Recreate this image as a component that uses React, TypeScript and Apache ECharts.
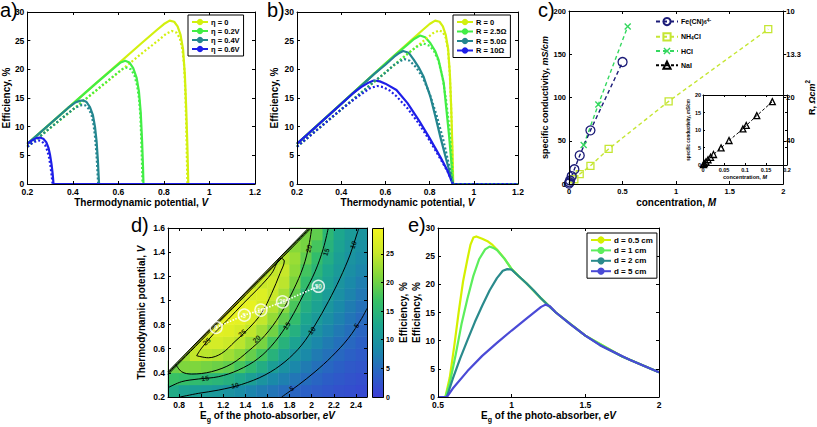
import React, { useEffect, useRef } from "react";
import * as echarts from "echarts";

const FONT = '"Liberation Sans", Arial, Helvetica, sans-serif';

// ---------------- Panel a : overpotential ----------------
const aNames = ["η = 0", "η = 0.2V", "η = 0.4V", "η = 0.6V"];
const aEta0 = [[0.2,7.0],[0.5,17.5],[0.7,24.5],[0.77,26.9],[0.8,27.9],[0.825,28.5],[0.845,28.3],[0.86,27.5],[0.873,26.0],[0.884,23.5],[0.892,19.0],[0.898,13.0],[0.903,6.5],[0.907,0],[1.2,0]];
const aEta02 = [[0.2,7.0],[0.5,17.5],[0.58,20.2],[0.61,21.2],[0.63,21.5],[0.648,21.2],[0.665,20.2],[0.68,18.5],[0.69,16.2],[0.698,12.5],[0.704,7.5],[0.708,3.0],[0.71,0],[1.2,0]];
const aEta04 = [[0.2,7.0],[0.38,13.3],[0.41,14.2],[0.43,14.5],[0.445,14.6],[0.46,14.3],[0.475,13.4],[0.488,12.0],[0.497,10.0],[0.504,7.5],[0.51,4.0],[0.513,1.5],[0.515,0],[1.2,0]];
const aEta06 = [[0.2,7.0],[0.22,7.6],[0.24,8.0],[0.255,8.1],[0.27,7.9],[0.283,7.3],[0.293,6.3],[0.3,5.0],[0.306,3.5],[0.311,1.8],[0.315,0],[1.2,0]];
const aEta0Dot = [[0.2,6.5],[0.5,16.2],[0.7,22.7],[0.78,25.2],[0.81,26.2],[0.835,26.7],[0.855,26.4],[0.87,25.4],[0.881,23.5],[0.889,20.5],[0.894,16],[0.898,10],[0.901,4],[0.903,0],[1.2,0]];
const aEta02Dot = [[0.2,6.5],[0.55,17.9],[0.6,19.5],[0.62,20.1],[0.638,20.3],[0.655,20.0],[0.67,19.0],[0.682,17.2],[0.691,14.8],[0.697,11.5],[0.701,7],[0.704,3],[0.706,0],[1.2,0]];
const aEta04Dot = [[0.2,6.5],[0.38,12.4],[0.41,13.3],[0.44,13.8],[0.455,13.7],[0.47,13.1],[0.482,12.0],[0.491,10.3],[0.498,8.0],[0.504,5.0],[0.508,2.2],[0.511,0],[1.2,0]];
const aEta06Dot = [[0.2,6.5],[0.22,7.1],[0.24,7.5],[0.252,7.6],[0.265,7.4],[0.278,6.8],[0.288,5.8],[0.296,4.5],[0.302,3.0],[0.307,1.4],[0.311,0],[1.2,0]];

// ---------------- Panel b : series resistance ----------------
const bNames = ["R = 0", "R = 2.5Ω", "R = 5.0Ω", "R = 10Ω"];
const bR0 = [[0.2,7.0],[0.5,17.5],[0.7,24.5],[0.77,26.9],[0.8,27.9],[0.825,28.5],[0.845,28.3],[0.86,27.5],[0.873,26.0],[0.884,23.5],[0.892,19.0],[0.898,13.0],[0.903,6.5],[0.907,0],[1.2,0]];
const bR25 = [[0.2,7.0],[0.6,21.0],[0.65,22.7],[0.7,24.3],[0.73,25.3],[0.757,25.9],[0.78,25.6],[0.803,24.6],[0.825,23.2],[0.841,21.6],[0.864,17.6],[0.876,13.0],[0.888,8.5],[0.898,4.0],[0.905,0],[1.2,0]];
const bR5 = [[0.2,7.0],[0.55,19.2],[0.6,20.8],[0.64,22.2],[0.665,22.9],[0.68,23.2],[0.705,22.9],[0.728,21.7],[0.75,20.4],[0.773,18.7],[0.803,15.3],[0.826,11.8],[0.85,8.0],[0.875,4.3],[0.895,1.5],[0.905,0],[1.2,0]];
const bR10 = [[0.2,7.0],[0.45,15.7],[0.49,16.9],[0.52,17.6],[0.548,18.05],[0.575,17.9],[0.6,17.5],[0.65,16.4],[0.7,14.1],[0.75,11.2],[0.8,8.0],[0.85,4.6],[0.88,2.4],[0.905,0],[1.2,0]];
const bR0Dot = [[0.2,6.5],[0.5,16.2],[0.7,22.7],[0.78,25.2],[0.815,26.3],[0.843,26.8],[0.86,26.5],[0.873,25.5],[0.883,23.5],[0.891,19.5],[0.897,14],[0.901,8],[0.904,3],[0.906,0],[1.2,0]];
const bR25Dot = [[0.2,6.5],[0.65,21.1],[0.7,22.7],[0.74,23.9],[0.773,24.5],[0.8,24.1],[0.82,23.2],[0.84,21.5],[0.86,18.3],[0.875,14.5],[0.89,9.5],[0.9,4.5],[0.906,0],[1.2,0]];
const bR5Dot = [[0.2,6.5],[0.55,17.9],[0.6,19.4],[0.64,20.8],[0.685,21.8],[0.71,21.5],[0.74,20.3],[0.77,18.5],[0.8,15.8],[0.83,12.2],[0.86,8.0],[0.885,3.8],[0.906,0],[1.2,0]];
const bR10Dot = [[0.2,6.5],[0.4,13.0],[0.46,14.8],[0.5,15.9],[0.53,16.7],[0.562,17.1],[0.59,16.9],[0.62,16.3],[0.65,15.3],[0.7,13.2],[0.75,10.6],[0.8,7.6],[0.85,4.3],[0.88,2.3],[0.906,0],[1.2,0]];

// ---------------- Panel c : conductivity ----------------
const cNames = ["Fe(CN)6", "NH4Cl", "HCl", "NaI"];
const cFe = [[0,0.5],[0.005,2],[0.01,4],[0.025,9],[0.05,17],[0.1,33],[0.2,62],[0.5,141]];
const cNH4Cl = [[0.05,5.5],[0.1,11.5],[0.2,21],[0.37,40.5],[0.93,95.5],[1.86,179]];
const cHCl = [[0.137,45],[0.274,92],[0.548,182]];
const cNaI = [[0.001,0.1],[0.003,0.4],[0.007,0.9],[0.012,1.5],[0.018,2.2],[0.025,3.0],[0.043,4.9],[0.062,7.0],[0.095,10.3],[0.103,11.3],[0.128,14.1],[0.165,18.1]];
const cRTicks = [50, 100, 150, 200];
const cRLabels = ["40", "20", "13.3", "10"];

// ---------------- Panel d : efficiency map ----------------
const dEgCenters = [0.75,0.85,0.95,1.05,1.15,1.25,1.35,1.45,1.55,1.65,1.75,1.85,1.95,2.05,2.15,2.25,2.35,2.45];
const dVCenters = [0.25,0.35,0.45,0.55,0.65,0.75,0.85,0.95,1.05,1.15,1.25,1.35,1.45,1.55];
const dCol075 = [13.5, 17, 20];
const dCol085 = [12, 16.5, 21, 23];
const dCol095 = [11.5, 16, 21, 25, 25.5];
const dCol105 = [11, 15.5, 20.5, 24.5, 26.5, 27];
const dCol115 = [10.5, 15, 20, 24, 26.5, 27.8, 27.5];
const dCol125 = [9.8, 14.3, 19.3, 23, 25.7, 27.6, 28.4, 27.5];
const dCol135 = [8.9, 13.2, 17.8, 21.6, 24.5, 26.6, 28.2, 28, 25.5];
const dCol145 = [7.9, 11.6, 15.8, 19.6, 22.5, 24.8, 26.9, 28.4, 27.2, 24.5];
const dCol155 = [7, 9.9, 13.8, 17.6, 20.6, 23, 25, 26.7, 27.4, 25.5, 23.5];
const dCol165 = [6.2, 8.5, 11.5, 14.6, 17.6, 20.3, 22.3, 24.2, 25.4, 25.9, 25, 22];
const dCol175 = [5.4, 7.4, 9.6, 12, 14.6, 17, 19.4, 21.4, 23.2, 24.6, 25.2, 24, 21];
const dCol185 = [4.6, 6.3, 8.2, 10.1, 12.2, 14.2, 16.2, 17.9, 19.4, 20.8, 21.9, 22.6, 21.5, 19];
const dCol195 = [4, 5.4, 6.9, 8.4, 9.8, 11.3, 12.6, 13.9, 15, 16.2, 17.6, 19.3, 20.5, 20.5];
const dCol205 = [3.4, 4.5, 5.7, 6.9, 8.2, 9.6, 10.9, 12, 13.1, 14.1, 15, 16.2, 17.7, 19.3];
const dCol215 = [2.8, 3.7, 4.7, 5.8, 6.9, 8, 9.2, 10.2, 11.1, 12, 12.8, 13.7, 14.6, 15.4];
const dCol225 = [2.3, 3.1, 3.9, 4.8, 5.7, 6.6, 7.6, 8.4, 9.3, 10.0, 10.8, 11.5, 12.2, 12.8];
const dCol235 = [1.9, 2.5, 3.2, 4.0, 4.8, 5.5, 6.2, 7.0, 7.8, 8.5, 9.2, 9.8, 10.4, 11];
const dCol245 = [1.5, 2.1, 2.7, 3.3, 3.9, 4.5, 5.1, 5.8, 6.5, 7.2, 8.0, 8.7, 9.4, 10.0];
const dColumns = [dCol075,dCol085,dCol095,dCol105,dCol115,dCol125,dCol135,dCol145,dCol155,dCol165,dCol175,dCol185,dCol195,dCol205,dCol215,dCol225,dCol235,dCol245];

const dC25 = [[0.959,0.542],[1.065,0.525],[1.185,0.561],[1.306,0.66],[1.427,0.765],[1.547,0.895],[1.638,1.059],[1.713,1.224],[1.752,1.327],[1.722,1.349],[1.638,1.225],[1.517,1.10],[1.381,0.975],[1.246,0.845],[1.11,0.72],[1.004,0.605],[0.959,0.542]];
const dC20 = [[0.77,0.47],[0.824,0.409],[0.914,0.39],[1.095,0.41],[1.276,0.475],[1.427,0.58],[1.577,0.71],[1.713,0.879],[1.834,1.086],[1.924,1.28],[1.975,1.459],[2.0,1.6]];
const dC15 = [[0.7,0.277],[0.824,0.327],[0.974,0.349],[1.155,0.368],[1.336,0.423],[1.517,0.52],[1.668,0.658],[1.803,0.838],[1.924,1.045],[2.03,1.238],[2.105,1.431],[2.15,1.6]];
const dC10 = [[0.809,0.2],[0.974,0.23],[1.155,0.257],[1.366,0.304],[1.577,0.382],[1.758,0.492],[1.909,0.63],[2.03,0.796],[2.15,0.99],[2.256,1.183],[2.346,1.376],[2.406,1.542],[2.427,1.6]];
const dC5 = [[1.728,0.2],[1.879,0.299],[2.03,0.409],[2.18,0.534],[2.331,0.686],[2.452,0.851],[2.5,0.934]];
const dBoundary = [[0.7,0.41],[1.97,1.6]];
const dBand1 = [[0.7,0.398],[1.983,1.6]];
const dBand2 = [[0.7,0.386],[1.996,1.6]];
const dLabelPts = [[1.05,0.66],[1.37,0.73],[1.5,0.68],[1.975,1.43],[1.035,0.355],[1.773,0.79],[2.13,1.4],[1.306,0.295],[2.0,0.75],[2.376,1.46],[1.818,0.27],[2.406,0.79]];
const dLabelTxt = ["25","25","20","20","15","15","15","10","10","10","5","5"];
const dLabelRot = [40, 40, 45, 75, 8, 55, 72, 12, 50, 68, 33, 52];
const dOptEg = [1.135, 1.39, 1.54, 1.736, 2.06];
const dOptV = [0.776, 0.878, 0.92, 0.988, 1.117];
const dOptLabels = ["0", "5", "10", "20", "50"];
const dXTicks = [0.8, 1, 1.2, 1.4, 1.6, 1.8, 2, 2.2, 2.4];
const dCbarTicks = [0, 5, 10, 15, 20, 25];

// ---------------- Panel e : distance ----------------
const eNames = ["d = 0.5 cm", "d = 1 cm", "d = 2 cm", "d = 5 cm"];
const eD05 = [[0.5,0],[0.55,0],[0.58,3.5],[0.61,9],[0.64,15],[0.67,20.5],[0.7,24.5],[0.72,27],[0.74,28.3],[0.76,28.5],[0.8,28.1],[0.84,27.6],[0.87,27.0],[0.9,26.2],[0.95,24.6],[1.0,22.7],[1.05,21.4],[1.1,20.2],[1.2,17.5],[1.3,15.0],[1.5,10.9],[1.75,7.2],[2.0,4.4]];
const eD1 = [[0.5,0],[0.55,0],[0.58,2.5],[0.62,7.5],[0.66,13],[0.7,17.5],[0.74,21.5],[0.78,24.5],[0.82,26.2],[0.85,26.7],[0.88,26.4],[0.9,26.1],[0.95,24.6],[1.0,22.7],[1.05,21.4],[1.1,20.2],[1.2,17.5],[1.3,15.0],[1.5,10.9],[1.75,7.2],[2.0,4.4]];
const eD2 = [[0.5,0],[0.56,0],[0.6,3.2],[0.65,6.8],[0.7,10.1],[0.75,13.3],[0.8,16.2],[0.85,18.9],[0.9,21.1],[0.94,22.4],[0.97,22.7],[1.0,22.6],[1.05,21.4],[1.1,20.2],[1.15,18.9],[1.2,17.5],[1.25,16.2],[1.3,15.0],[1.4,12.9],[1.5,10.9],[1.6,9.2],[1.75,7.2],[1.9,5.5],[2.0,4.4]];
const eD5 = [[0.5,0],[0.56,0],[0.6,1.5],[0.7,4.6],[0.8,7.3],[0.9,9.6],[1.0,11.8],[1.1,13.9],[1.2,16.0],[1.23,16.4],[1.26,16.1],[1.3,15.0],[1.4,12.9],[1.5,10.9],[1.6,9.2],[1.7,7.9],[1.8,6.6],[1.9,5.5],[2.0,4.4]];

// ---------------- styling ----------------
const COL = { y: "#d2f00f", g: "#42ee45", t: "#24868f", b: "#1e1ee8" };
const ECOL = { y: "#d4f000", g: "#5cee5c", t: "#2a8a8c", b: "#4a4ad6" };
const CMAP = ["#3d3dd6", "#2a62c4", "#1a8aa8", "#1ca68e", "#36c066", "#7fd63c", "#c8e82a", "#f2f51e"];
const CMAX = 29.5;

function rich(size: number, lh = 1.5) {
  const base = { fontSize: size, fontWeight: "bold", fontFamily: FONT, color: "#000", lineHeight: size * lh };
  return {
    b: { ...base },
    i: { ...base, fontStyle: "italic" },
    sub: { ...base, fontSize: size * 0.7, verticalAlign: "bottom" },
    sup: { ...base, fontSize: size * 0.7, verticalAlign: "top" },
    n: { ...base },
  };
}

function axis(o: any) {
  const a: any = {
    type: "value",
    gridIndex: o.grid,
    position: o.pos,
    min: o.min,
    max: o.max,
    z: 6,
    silent: true,
    axisLine: { show: true, onZero: false, lineStyle: { color: "#000", width: 1 } },
    axisTick: { show: true, inside: !o.tickOut, length: o.tickLen ?? 3, lineStyle: { color: "#000", width: 1 } },
    axisLabel: { show: !!o.labels, margin: o.margin ?? 3, fontSize: o.font ?? 8.5, fontWeight: "bold", color: "#000", fontFamily: FONT },
    splitLine: { show: false },
  };
  if (o.interval != null) a.interval = o.interval;
  if (o.custom) {
    a.axisTick.customValues = o.custom;
    a.axisLabel.customValues = o.custom;
  }
  if (o.formatter) a.axisLabel.formatter = o.formatter;
  if (o.name) {
    a.name = o.name;
    a.nameLocation = "middle";
    a.nameGap = o.nameGap;
    a.nameTextStyle = { fontSize: o.nameSize ?? 10, rich: rich(o.nameSize ?? 10) };
  }
  return a;
}

function line(name: string, data: number[][], color: string, xi: number, yi: number, dotted = false, width = 2.2) {
  return {
    type: "line", name, data, xAxisIndex: xi, yAxisIndex: yi, symbol: "none",
    smooth: false, silent: true, z: 3,
    lineStyle: { color, width, type: dotted ? [2, 2.2] : "solid", join: "round" },
    itemStyle: { color },
  };
}

function contour(data: number[][]) {
  return {
    type: "line", data, xAxisIndex: 9, yAxisIndex: 9, symbol: "none", smooth: 0.35, silent: true, z: 4,
    lineStyle: { color: "#000", width: 1 },
  };
}

function cSeries(name: string, data: number[][], color: string, symbol: string, size: number, xi: number, yi: number) {
  return {
    type: "line", name, data, xAxisIndex: xi, yAxisIndex: yi, symbol, symbolSize: size,
    silent: true, z: 3,
    lineStyle: { color, width: 1.4, type: [4, 3] },
    itemStyle: { color: "rgba(255,255,255,0)", borderColor: color, borderWidth: 1.3 },
  };
}

function legendBox(left: number, top: number, names: string[], opts: any = {}) {
  return {
    left, top, orient: "vertical", data: names, selectedMode: false,
    itemWidth: opts.itemWidth ?? 16, itemHeight: opts.itemHeight ?? 8, itemGap: opts.itemGap ?? 1,
    padding: opts.padding ?? [3, 4, 3, 3],
    borderColor: opts.border === false ? "transparent" : "#000",
    borderWidth: opts.border === false ? 0 : 1,
    backgroundColor: opts.border === false ? "transparent" : "#fff",
    textStyle: { fontSize: opts.font ?? 7.5, fontWeight: "bold", fontFamily: FONT, color: "#000", padding: [0, 0, 0, -2], rich: rich(opts.font ?? 7.5, opts.lh ?? 1.2) },
    formatter: opts.formatter,
    z: 8,
  };
}

function buildOption() {
  const grids = [
    { left: 27, top: 12, width: 228, height: 172 },   // 0 a
    { left: 297, top: 12, width: 221, height: 172 },  // 1 b
    { left: 569, top: 11, width: 223, height: 173 },  // 2 c
    { left: 703, top: 95, width: 84, height: 70 },    // 3 c inset
    { left: 168, top: 228, width: 199, height: 169 }, // 4 d heat
    { left: 168, top: 228, width: 199, height: 169 }, // 5 d value
    { left: 372, top: 228, width: 11, height: 169 },  // 6 colorbar
    { left: 438, top: 228, width: 221, height: 169 }, // 7 e
  ];

  const potName = "{b|Thermodynamic potential, }{i|V}";
  const effName = "{b|Efficiency, %}";
  const egName = "{b|E}{sub|g}{b| of the photo-absorber, }{i|eV}";

  const xAxis: any[] = [
    axis({ grid: 0, pos: "bottom", min: 0.2, max: 1.2, interval: 0.2, labels: true, name: potName, nameGap: 11 }),
    axis({ grid: 0, pos: "top", min: 0.2, max: 1.2, interval: 0.2 }),
    axis({ grid: 1, pos: "bottom", min: 0.2, max: 1.2, interval: 0.2, labels: true, name: potName, nameGap: 11 }),
    axis({ grid: 1, pos: "top", min: 0.2, max: 1.2, interval: 0.2 }),
    axis({ grid: 2, pos: "bottom", min: 0, max: 2, interval: 0.5, labels: true, font: 7.5, name: "{b|concentration, }{i|M}", nameGap: 11 }),
    axis({ grid: 2, pos: "top", min: 0, max: 2, interval: 0.5 }),
    axis({ grid: 3, pos: "bottom", min: 0, max: 0.2, interval: 0.05, labels: true, font: 5.5, margin: 2, tickLen: 2, name: "{b|concentration, }{i|M}", nameGap: 7, nameSize: 5.5 }),
    axis({ grid: 3, pos: "top", min: 0, max: 0.2, interval: 0.05, tickLen: 2 }),
    { type: "category", gridIndex: 4, data: dEgCenters.map(String), show: false },
    axis({ grid: 5, pos: "bottom", min: 0.7, max: 2.5, custom: dXTicks, labels: true, name: egName, nameGap: 11 }),
    axis({ grid: 5, pos: "top", min: 0.7, max: 2.5, custom: dXTicks }),
    axis({ grid: 7, pos: "bottom", min: 0.5, max: 2, interval: 0.5, labels: true, name: egName, nameGap: 11 }),
    axis({ grid: 7, pos: "top", min: 0.5, max: 2, interval: 0.5 }),
    { type: "value", gridIndex: 6, min: 0, max: 1, show: false },
  ];

  const yAxis: any[] = [
    axis({ grid: 0, pos: "left", min: 0, max: 30, interval: 5, labels: true, name: effName, nameGap: 11 }),
    axis({ grid: 0, pos: "right", min: 0, max: 30, interval: 5 }),
    axis({ grid: 1, pos: "left", min: 0, max: 30, interval: 5, labels: true, name: effName, nameGap: 15 }),
    axis({ grid: 1, pos: "right", min: 0, max: 30, interval: 5 }),
    axis({ grid: 2, pos: "left", min: 0, max: 200, interval: 50, labels: true, font: 7.5, name: "{b|specific conductivity, }{i|mS/cm}", nameGap: 15, nameSize: 9 }),
    axis({ grid: 2, pos: "right", min: 0, max: 200, custom: cRTicks, labels: true, tickOut: true, font: 7.5,
      formatter: (v: number) => cRLabels[cRTicks.indexOf(v)] ?? "",
      name: "{b|R, }{i|Ωcm}{sup|2}", nameGap: 16, nameSize: 9 }),
    axis({ grid: 3, pos: "left", min: 0, max: 20, interval: 5, labels: true, font: 5.5, margin: 2, tickLen: 2, name: "{b|specific conductivity, }{i|mS/cm}", nameGap: 9, nameSize: 4.5 }),
    axis({ grid: 3, pos: "right", min: 0, max: 20, interval: 5, tickLen: 2 }),
    { type: "category", gridIndex: 4, data: dVCenters.map(String), show: false },
    axis({ grid: 5, pos: "left", min: 0.2, max: 1.6, interval: 0.2, labels: true, name: potName, nameGap: 19 }),
    axis({ grid: 5, pos: "right", min: 0.2, max: 1.6, interval: 0.2 }),
    axis({ grid: 7, pos: "left", min: 0, max: 30, interval: 5, labels: true, name: effName, nameGap: 11 }),
    axis({ grid: 7, pos: "right", min: 0, max: 30, interval: 5 }),
    axis({ grid: 6, pos: "right", min: 0, max: CMAX, custom: dCbarTicks, labels: true, font: 7, tickLen: 2, name: effName, nameGap: 13 }),
  ];

  const series: any[] = [];
  // panel a (dotted below, solid on top)
  series.push(line("a0d", aEta0Dot, COL.y, 0, 0, true));
  series.push(line("a1d", aEta02Dot, COL.g, 0, 0, true));
  series.push(line("a2d", aEta04Dot, COL.t, 0, 0, true));
  series.push(line("a3d", aEta06Dot, COL.b, 0, 0, true));
  series.push(line(aNames[0], aEta0, COL.y, 0, 0));
  series.push(line(aNames[1], aEta02, COL.g, 0, 0));
  series.push(line(aNames[2], aEta04, COL.t, 0, 0));
  series.push(line(aNames[3], aEta06, COL.b, 0, 0));
  // panel b
  series.push(line(bNames[0], bR0, COL.y, 2, 2));
  series.push(line(bNames[1], bR25, COL.g, 2, 2));
  series.push(line(bNames[2], bR5, COL.t, 2, 2));
  series.push(line(bNames[3], bR10, COL.b, 2, 2));
  series.push(line("b0d", bR0Dot, COL.y, 2, 2, true));
  series.push(line("b1d", bR25Dot, COL.g, 2, 2, true));
  series.push(line("b2d", bR5Dot, COL.t, 2, 2, true));
  series.push(line("b3d", bR10Dot, COL.b, 2, 2, true));
  // panel c
  series.push(cSeries(cNames[1], cNH4Cl, "#c5e633", "rect", 7, 4, 4));
  series.push(cSeries(cNames[2], cHCl, "#35d860", "path://M0,1.4L1.4,0L5,3.6L8.6,0L10,1.4L6.4,5L10,8.6L8.6,10L5,6.4L1.4,10L0,8.6L3.6,5Z", 7, 4, 4));
  const hcl = series[series.length - 1];
  hcl.itemStyle = { color: "#35d860" };
  series.push(cSeries(cNames[0], cFe, "#1c1c78", "circle", 9, 4, 4));
  series.push(cSeries(cNames[3], cNaI, "#000", "triangle", 6, 6, 6));
  series[series.length - 1].lineStyle.width = 1;
  series[series.length - 1].lineStyle.type = [3, 2];

  // panel d heatmap
  const heatData: number[][] = [];
  dColumns.forEach((col, i) => col.forEach((v, j) => heatData.push([i, j, v])));
  const heatIdx = series.length;
  series.push({ type: "heatmap", xAxisIndex: 8, yAxisIndex: 8, data: heatData, progressive: 0, silent: true, z: 1 });
  series.push({
    type: "line", data: dBoundary, xAxisIndex: 9, yAxisIndex: 9, symbol: "none", silent: true, z: 2,
    lineStyle: { color: "#000", width: 1 }, areaStyle: { color: "#fff", opacity: 1, origin: "end" },
  });
  series.push(contour(dBand1));
  series.push(contour(dBand2));
  series.push(contour(dC25));
  series.push(contour(dC20));
  series.push(contour(dC15));
  series.push(contour(dC10));
  series.push(contour(dC5));
  series.push({
    type: "scatter", xAxisIndex: 9, yAxisIndex: 9, symbol: "circle", symbolSize: 1, silent: true, z: 5,
    itemStyle: { color: "rgba(0,0,0,0)" },
    data: dLabelPts.map((p, k) => ({ value: p, name: dLabelTxt[k], label: { rotate: dLabelRot[k] } })),
    label: { show: true, position: "inside", formatter: "{b}", fontSize: 7, fontWeight: "bold", fontFamily: FONT, color: "#000" },
  });
  series.push({
    type: "line", xAxisIndex: 9, yAxisIndex: 9, symbol: "none", silent: true, z: 5,
    data: dOptEg.map((x, k) => [x, dOptV[k]]),
    lineStyle: { color: "#fff", width: 1.6, type: [1.5, 1.5] },
  });
  series.push({
    type: "scatter", xAxisIndex: 9, yAxisIndex: 9, symbol: "circle", symbolSize: 12, silent: true, z: 6,
    itemStyle: { color: "rgba(255,255,255,0.12)", borderColor: "#fff", borderWidth: 1.5 },
    data: dOptEg.map((x, k) => ({ value: [x, dOptV[k]], name: dOptLabels[k] })),
    label: { show: true, position: "inside", formatter: "{b}", fontSize: 6.5, fontWeight: "bold", fontFamily: FONT, color: "#fff" },
  });

  // panel e
  series.push(line(eNames[0], eD05, ECOL.y, 11, 11));
  series.push(line(eNames[1], eD1, ECOL.g, 11, 11));
  series.push(line(eNames[2], eD2, ECOL.t, 11, 11));
  series.push(line(eNames[3], eD5, ECOL.b, 11, 11));

  const cLegendFmt = (name: string) => {
    if (name === "Fe(CN)6") return "{n|Fe(CN)}{sub|6}{sup|4-}";
    if (name === "NH4Cl") return "{n|NH}{sub|4}{n|Cl}";
    return "{n|" + name + "}";
  };

  const letters = [
    { t: "a)", x: 0, y: 0 }, { t: "b)", x: 267, y: 0 }, { t: "c)", x: 538, y: 0 },
    { t: "d)", x: 131, y: 215 }, { t: "e)", x: 408, y: 215 },
  ];

  return {
    animation: false,
    backgroundColor: "#fff",
    textStyle: { fontFamily: FONT },
    grid: grids.map((g) => ({ ...g, containLabel: false })),
    xAxis,
    yAxis,
    visualMap: [{ type: "continuous", show: false, min: 0, max: CMAX, dimension: 2, seriesIndex: heatIdx, inRange: { color: CMAP } }],
    legend: [
      legendBox(188, 15, aNames, { itemWidth: 16, itemHeight: 8, itemGap: 1 }),
      legendBox(453, 15, bNames, { itemWidth: 16, itemHeight: 8, itemGap: 1.5 }),
      legendBox(655, 17, cNames, { border: false, itemWidth: 22, itemHeight: 9, itemGap: 6, font: 7, lh: 1.1, formatter: cLegendFmt, padding: 0 }),
      legendBox(587, 233, eNames, { itemWidth: 20, itemHeight: 9, itemGap: 2.4, font: 8 }),
    ],
    graphic: [
      ...letters.map((l) => ({ type: "text", left: l.x, top: l.y, z: 10, style: { text: l.t, fontSize: 20, fontFamily: FONT, fill: "#000" } })),
      {
        type: "rect", left: 372, top: 228, z: 1,
        shape: { x: 0, y: 0, width: 11, height: 169 },
        style: {
          fill: new echarts.graphic.LinearGradient(0, 1, 0, 0, CMAP.map((c, i) => ({ offset: i / (CMAP.length - 1), color: c }))),
          stroke: "#000", lineWidth: 1,
        },
      },
    ],
    series,
  };
}

export default function App() {
  const ref = useRef<HTMLDivElement>(null);
  useEffect(() => {
    const chart = echarts.init(ref.current!, null, { renderer: "svg" });
    chart.setOption(buildOption() as any);
    return () => chart.dispose();
  }, []);
  return <div ref={ref} style={{ position: "fixed", left: 0, top: 0, width: 817, height: 427, background: "#fff" }} />;
}
